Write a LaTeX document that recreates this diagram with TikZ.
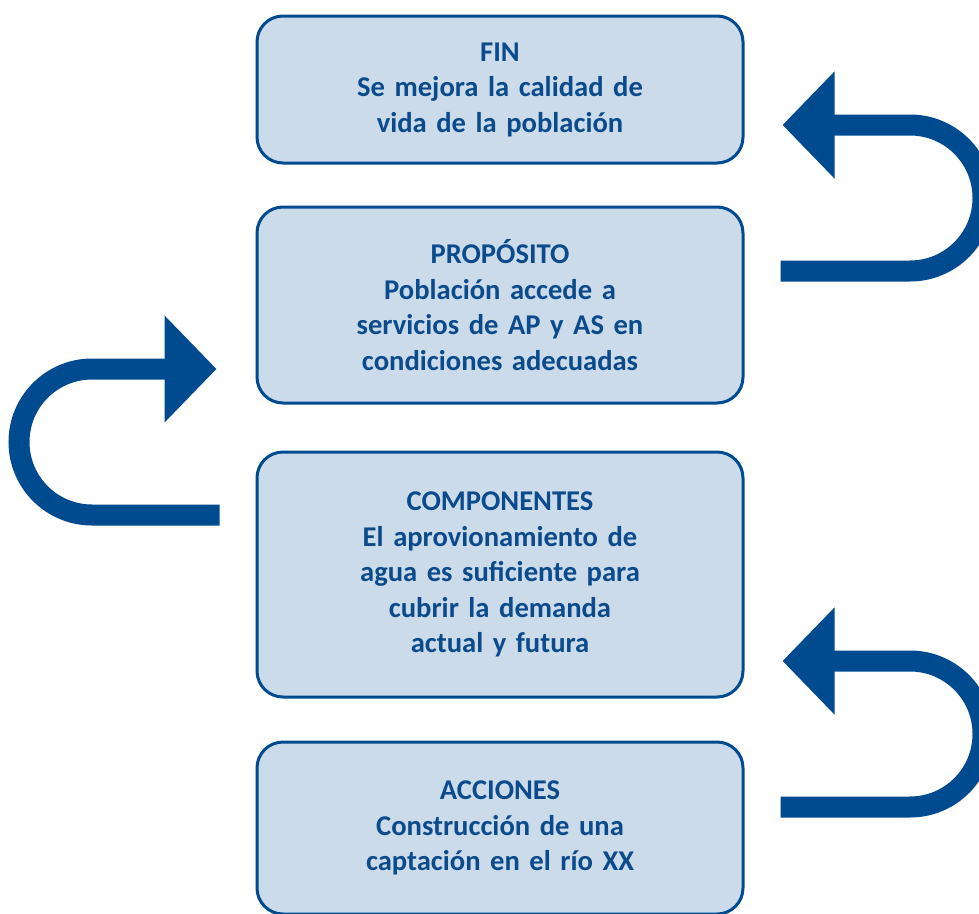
\documentclass[tikz,border=0pt]{standalone}
\usepackage{fontspec}
\setmainfont{Carlito}[WordSpace=0.8]
\usetikzlibrary{arrows.meta}
\definecolor{dblue}{HTML}{004A8F}
\definecolor{tblue}{HTML}{0B4A8B}
\definecolor{lblue}{HTML}{CBDBEA}
\tikzset{
  box/.style={draw=dblue, fill=lblue, line width=3pt, rounded corners=26pt,
    minimum width=486pt, text width=440pt, align=center, text=tblue,
    font=\fontsize{28.6pt}{35.5pt}\selectfont\bfseries, inner sep=0pt},
  bigarrow/.style={draw=dblue, line width=21pt,
    -{Triangle[length=52pt 0 0, width=104pt 0 0]}}
}
\begin{document}
\begin{tikzpicture}[x=1pt,y=-1pt]
\useasboundingbox (0,0) rectangle (979,913);
\node[box, minimum height=147pt] (fin) at (500,89.5) {FIN\\Se mejora la calidad de\\vida de la población};
\node[box, minimum height=196pt] (prop) at (500,305) {PROPÓSITO\\Población accede a\\servicios de AP y AS en\\condiciones adecuadas};
\node[box, minimum height=245pt] (comp) at (500,574.5) {COMPONENTES\\El aprovionamiento de\\agua es suficiente para\\cubrir la demanda\\actual y futura};
\node[box, minimum height=172pt] (acc) at (500,828) {ACCIONES\\Construcción de una\\captación en el río XX};
% arrow PROPÓSITO -> FIN
\coordinate (a1s) at (prop.east |- 0,271);
\coordinate (a1e) at (fin.east |- 0,125);
\draw[bigarrow] ([xshift=36pt]a1s) -- (910,271) arc(90:-90:73) -- ([xshift=38pt]a1e);
% arrow COMPONENTES -> PROPÓSITO
\coordinate (a2s) at (comp.west |- 0,515);
\coordinate (a2e) at (prop.west |- 0,369);
\draw[bigarrow] ([xshift=-36pt]a2s) -- (92,515) arc(90:270:73) -- ([xshift=-39pt]a2e);
% arrow ACCIONES -> COMPONENTES
\coordinate (a3s) at (acc.east |- 0,807);
\coordinate (a3e) at (comp.east |- 0,661);
\draw[bigarrow] ([xshift=36pt]a3s) -- (910,807) arc(90:-90:73) -- ([xshift=38pt]a3e);
\end{tikzpicture}
\end{document}
